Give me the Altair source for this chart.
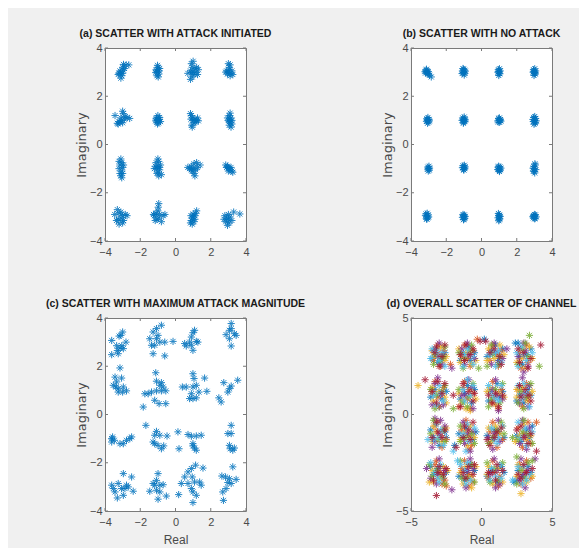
import altair as alt
import pandas as pd

# ---------------- data ----------------
TITLES = ["(a) SCATTER WITH ATTACK INITIATED", "(b) SCATTER WITH NO ATTACK",
          "(c) SCATTER WITH MAXIMUM ATTACK MAGNITUDE", "(d) OVERALL SCATTER OF CHANNEL"]
TICKS_ABC = [-4, -2, 0, 2, 4]
TICKS_D = [-5, 0, 5]
DOMAIN_ABC = [-4, 4]
DOMAIN_D = [-5, 5]
SERIES_NAMES = ["s1", "s2", "s3", "s4", "s5", "s6", "s7"]
SERIES_COLORS = ["#0072BD", "#D95319", "#EDB120", "#7E2F8E", "#77AC30", "#4DBEEE", "#A2142F"]

A_XY = [
    (-2.95, 3.32), (-2.8, 3.3), (-2.65, 3.3), (-3.0, 3.2), (-2.9, 3.15), (-3.2, 2.95), (-3.25, 2.9),
    (-3.1, 3.0), (-3.05, 2.85), (-3.1, 2.75), (-3.0, 2.95), (-3.15, 3.05), (-2.95, 3.08),
    (-1.0, 3.0), (-1.1, 3.1), (-0.95, 2.92), (-1.05, 2.85), (-1.0, 3.2), (-0.92, 3.05), (-1.12, 2.98),
    (-1.02, 3.28), (-0.98, 2.8), (-1.08, 3.05), (-0.9, 3.15),
    (1.0, 3.0), (0.85, 3.05), (0.9, 3.35), (0.95, 3.2), (1.1, 3.15), (1.2, 3.2), (1.3, 3.1), (1.05, 2.9),
    (0.95, 2.8), (0.85, 2.7), (1.15, 3.0), (0.7, 2.95), (1.0, 3.45), (1.25, 2.9), (0.92, 2.98),
    (3.0, 3.0), (2.9, 3.05), (3.05, 3.2), (3.1, 3.3), (3.0, 3.35), (2.85, 3.0), (3.15, 2.95), (3.1, 2.85),
    (3.25, 2.9), (2.95, 2.92), (3.05, 3.1), (3.2, 3.05),
    (-3.43, 1.2), (-3.0, 1.38), (-2.96, 1.28), (-2.75, 1.12), (-2.6, 1.08), (-3.05, 1.0), (-3.15, 0.92),
    (-3.25, 0.85), (-3.2, 0.95), (-2.9, 1.05), (-3.1, 1.1), (-3.3, 0.88), (-2.85, 1.15), (-3.0, 0.9),
    (-1.0, 1.0), (-1.08, 1.1), (-0.92, 1.05), (-0.95, 0.9), (-1.05, 0.92), (-1.0, 1.2), (-0.9, 1.12),
    (-1.12, 0.98), (-0.85, 0.95), (-1.02, 0.85), (-0.98, 1.02), (-1.1, 1.06),
    (0.85, 1.28), (0.9, 1.2), (0.95, 1.1), (1.0, 1.0), (1.1, 1.05), (1.2, 1.0), (1.3, 0.98), (1.05, 0.9),
    (0.92, 0.8), (0.95, 0.72), (1.15, 0.92), (0.88, 1.05), (1.25, 1.1),
    (3.1, 1.3), (3.05, 1.2), (3.15, 1.1), (3.0, 1.0), (3.2, 1.0), (3.1, 0.9), (3.05, 0.8), (3.15, 0.72),
    (3.1, 1.05), (2.95, 1.1), (3.2, 0.85), (3.05, 0.95),
    (-3.1, -0.6), (-3.05, -0.75), (-3.15, -0.85), (-3.0, -0.95), (-3.2, -1.0), (-3.05, -1.1), (-3.15, -1.2),
    (-3.1, -1.3), (-3.05, -1.38), (-2.95, -0.85), (-3.2, -0.7), (-3.0, -1.2),
    (-1.0, -0.6), (-0.95, -0.7), (-1.1, -0.75), (-1.15, -0.9), (-1.0, -0.9), (-0.85, -0.85), (-1.05, -1.0),
    (-1.2, -1.0), (-0.9, -1.05), (-1.0, -1.15), (-0.95, -1.3), (-0.8, -1.25), (-1.05, -1.2), (-0.92, -0.95),
    (1.0, -1.0), (0.8, -1.0), (0.9, -0.9), (1.05, -0.8), (1.2, -0.75), (1.4, -0.85), (1.15, -1.05),
    (0.95, -1.1), (1.05, -1.2), (1.1, -1.3), (0.7, -0.95), (1.25, -0.95), (0.9, -1.05),
    (2.85, -0.85), (2.95, -0.9), (3.0, -0.95), (3.05, -1.0), (3.1, -1.05), (3.2, -1.1), (3.25, -1.15),
    (3.0, -1.1), (3.15, -0.95), (2.9, -0.95),
    (-3.3, -2.7), (-3.2, -2.85), (-3.45, -2.9), (-3.0, -2.95), (-3.1, -3.05), (-3.25, -3.1), (-2.85, -2.9),
    (-2.75, -2.95), (-3.0, -3.25), (-3.2, -3.3), (-3.35, -3.15), (-2.95, -3.15), (-3.1, -2.8),
    (-0.95, -2.45), (-0.98, -2.6), (-1.0, -2.75), (-1.1, -2.85), (-1.2, -2.95), (-0.9, -2.9), (-0.7, -2.95),
    (-0.6, -2.9), (-1.05, -3.1), (-0.8, -3.2), (-1.15, -3.15), (-0.95, -3.05), (-1.25, -2.9),
    (1.2, -2.75), (1.15, -2.85), (1.1, -2.95), (1.0, -3.0), (0.95, -3.05), (0.9, -3.15), (0.85, -3.25),
    (1.05, -3.2), (0.95, -3.3), (1.1, -3.1), (0.88, -2.95), (1.0, -2.88),
    (2.8, -2.95), (2.9, -3.05), (3.0, -3.1), (2.85, -3.2), (3.05, -3.25), (2.95, -3.35), (3.1, -3.0),
    (3.3, -2.8), (3.65, -2.88), (3.2, -3.15), (2.75, -3.1), (3.0, -2.9),
]

B_XY = [
    (-3.15, 3.08), (-3.1, 3.0), (-3.05, 2.95), (-3.2, 3.02), (-3.12, 3.12), (-3.0, 2.92), (-2.95, 2.87),
    (-2.85, 2.8), (-3.08, 3.05), (-3.18, 2.96), (-3.02, 3.02),
    (-1.0, 3.0), (-1.08, 3.05), (-0.95, 2.95), (-1.02, 3.12), (-0.92, 3.04), (-1.1, 2.94), (-0.98, 2.88),
    (-1.05, 3.15), (-0.96, 3.08), (-1.04, 2.98),
    (1.0, 3.0), (0.96, 3.1), (1.04, 2.93), (0.98, 2.86), (1.06, 3.05), (0.93, 3.0), (1.02, 3.14),
    (1.0, 2.95), (0.97, 3.03),
    (3.0, 3.0), (2.95, 3.1), (3.05, 2.92), (2.98, 2.86), (3.07, 3.05), (2.93, 3.0), (3.02, 3.14),
    (3.0, 2.95), (2.97, 3.03), (3.04, 2.98),
    (-3.05, 1.0), (-3.1, 1.07), (-3.0, 0.93), (-2.98, 1.04), (-3.12, 0.96), (-3.04, 1.12), (-3.06, 0.88),
    (-2.96, 0.98), (-3.08, 1.02),
    (-1.0, 1.0), (-1.06, 1.1), (-0.94, 0.95), (-1.03, 0.88), (-0.96, 1.06), (-1.1, 1.0), (-0.98, 1.14),
    (-1.02, 0.92), (-0.92, 1.02), (-1.04, 1.04),
    (1.0, 1.0), (1.07, 1.03), (0.93, 0.98), (1.03, 0.92), (0.97, 1.08), (1.1, 0.97), (0.95, 0.93),
    (1.02, 1.1), (1.05, 1.0),
    (3.0, 1.0), (3.07, 1.08), (2.94, 0.95), (3.04, 0.88), (2.96, 1.12), (3.1, 0.98), (2.92, 1.04),
    (3.02, 1.16), (3.06, 0.92), (2.98, 0.84),
    (-3.0, -1.0), (-3.04, -0.94), (-2.96, -1.06), (-3.02, -1.1), (-2.98, -0.9), (-3.05, -1.02), (-2.95, -0.98),
    (-1.0, -0.95), (-1.05, -0.88), (-0.95, -1.0), (-1.02, -1.04), (-0.97, -0.86), (-1.08, -0.96),
    (-0.93, -0.93), (-1.0, -1.06),
    (1.0, -1.0), (0.94, -0.94), (1.06, -1.05), (1.02, -1.12), (0.97, -0.9), (1.1, -0.98), (0.92, -1.04),
    (1.0, -1.08), (1.05, -0.93),
    (3.0, -1.0), (3.05, -0.85), (2.95, -1.1), (3.02, -1.18), (2.97, -0.92), (3.08, -1.04), (2.93, -0.98),
    (3.03, -0.8), (2.99, -1.12),
    (-3.1, -2.97), (-3.15, -2.88), (-3.05, -3.04), (-3.12, -3.08), (-3.02, -2.92), (-3.18, -2.95),
    (-3.08, -2.85), (-3.0, -3.0), (-3.1, -3.1),
    (-1.0, -3.0), (-1.05, -2.9), (-0.95, -3.06), (-1.02, -3.12), (-0.97, -2.92), (-1.08, -3.02),
    (-0.93, -2.98), (-1.0, -3.1), (-1.03, -2.95),
    (1.0, -3.0), (0.96, -2.86), (1.04, -3.08), (0.98, -3.16), (1.02, -2.92), (0.94, -3.04), (1.06, -2.98),
    (1.0, -3.12), (0.98, -2.94),
    (3.0, -3.0), (3.06, -2.92), (2.94, -3.04), (3.02, -3.08), (2.96, -2.95), (3.1, -3.0), (2.92, -2.98),
    (3.0, -2.9), (3.04, -3.06),
]

C_XY = [
    (-3.62, 3.07), (-3.62, 2.48), (-3.34, 2.85), (-3.25, 2.52), (-3.10, 3.28), (-3.0, 3.42), (-2.96, 2.73),
    (-2.81, 3.0), (-3.15, 2.75), (-3.3, 2.65), (-3.05, 2.85), (-3.2, 3.25),
    (-1.46, 3.14), (-1.27, 3.42), (-1.08, 3.56), (-0.8, 3.7), (-0.99, 3.28), (-1.18, 2.87), (-1.27, 2.52),
    (-0.89, 3.0), (-0.61, 3.0), (-0.61, 2.43), (-1.36, 2.87), (-1.08, 3.14), (-0.14, 3.03),
    (0.52, 2.94), (0.8, 3.0), (0.9, 3.21), (0.99, 3.39), (1.08, 3.49), (1.18, 3.03), (1.27, 3.0),
    (0.99, 2.66), (0.61, 2.84), (0.9, 2.87),
    (2.87, 3.31), (3.16, 3.77), (3.16, 3.56), (3.06, 3.14), (3.16, 2.84), (3.44, 3.28), (3.34, 3.35),
    (3.06, 3.49),
    (-3.15, 1.93), (-3.43, 1.55), (-3.53, 1.21), (-3.34, 1.35), (-3.25, 1.07), (-3.06, 1.51), (-3.0, 0.93),
    (-2.78, 0.98), (-3.25, 0.93), (-3.38, 1.14), (-2.96, 1.14),
    (-1.74, 0.86), (-1.55, 0.86), (-1.36, 0.93), (-1.08, 0.98), (-0.8, 0.98), (-0.55, 0.98), (-1.12, 1.73),
    (-1.08, 1.38), (-0.89, 1.21), (-0.8, 1.32), (-1.18, 0.59), (-0.93, 0.45), (-0.55, 0.45), (-1.83, 0.31),
    (-0.7, 1.14),
    (0.39, 1.14), (0.61, 1.14), (0.99, 1.69), (1.05, 1.49), (0.99, 1.14), (1.18, 1.21), (0.9, 0.86),
    (0.99, 0.66), (1.18, 0.69), (1.33, 0.93), (1.65, 1.51), (1.78, 0.96), (0.8, 0.66),
    (2.74, 1.32), (2.97, 0.93), (3.16, 1.18), (3.53, 1.42), (2.46, 0.69), (2.59, 0.52), (3.06, 1.07),
    (-3.62, -1.0), (-3.62, -1.14), (-3.47, -1.07), (-3.15, -1.21), (-2.96, -1.21), (-2.78, -1.07),
    (-2.59, -1.0), (-2.49, -0.93), (-3.57, -0.93),
    (-1.68, -0.45), (-1.08, -0.7), (-1.18, -0.86), (-0.89, -0.86), (-0.48, -0.89), (-1.18, -1.21),
    (-0.99, -1.28), (-0.8, -1.42), (-0.67, -1.3), (-1.27, -1.14),
    (0.14, -0.72), (0.2, -1.42), (0.71, -0.83), (0.9, -0.9), (1.18, -0.89), (1.46, -0.86), (0.99, -1.21),
    (1.08, -1.39), (1.18, -1.48), (0.99, -1.3),
    (3.16, -0.45), (2.97, -0.79), (3.16, -0.79), (3.06, -1.28), (3.1, -1.42), (3.34, -1.39), (3.25, -1.48),
    (-3.62, -2.93), (-3.53, -3.07), (-3.25, -2.86), (-2.96, -2.45), (-3.06, -3.07), (-2.87, -3.07),
    (-2.68, -3.0), (-2.49, -2.59), (-2.4, -3.18), (-3.3, -3.46), (-2.96, -3.35), (-2.78, -2.93),
    (-3.43, -3.21),
    (-1.46, -3.18), (-0.99, -2.45), (-1.08, -2.73), (-1.18, -2.93), (-0.89, -2.93), (-0.7, -2.91),
    (-1.08, -3.14), (-0.89, -3.21), (-0.99, -3.51), (-0.52, -3.38), (-1.27, -2.86),
    (0.18, -3.32), (0.52, -2.59), (0.71, -2.38), (0.9, -2.24), (1.14, -2.1), (0.95, -2.59), (0.33, -2.86),
    (0.71, -2.86), (1.08, -2.8), (1.37, -2.8), (1.56, -2.22), (0.99, -3.21), (1.18, -3.35), (0.99, -3.65),
    (1.46, -2.93), (0.9, -3.07),
    (2.63, -2.55), (2.84, -2.59), (3.25, -2.17), (3.06, -2.66), (3.44, -2.69), (3.16, -2.86), (2.87, -3.07),
    (2.68, -3.21), (2.72, -3.56), (2.97, -2.82),
]

D1 = [(-3.2, 3.4), (-2.8, 2.9), (-3.1, 2.7), (-1.3, 3.2), (-0.8, 2.8), (-0.9, 3.5), (0.7, 3.3), (1.2, 2.8),
      (1.0, 3.6), (2.6, 3.7), (3.2, 3.1), (2.9, 2.6), (-3.3, 1.3), (-2.8, 0.8), (-3.0, 0.4), (-1.2, 1.1),
      (-0.7, 0.6), (-1.0, 1.5), (0.6, 1.2), (1.3, 0.9), (1.1, 1.6), (2.7, 1.0), (3.3, 1.3), (3.0, 0.6),
      (-3.4, -1.2), (-2.6, -0.9), (-3.0, -1.6), (-1.1, -0.7), (-0.6, -1.3), (-1.3, -1.2), (0.8, -1.3),
      (1.2, -0.9), (0.9, -0.8), (2.8, -1.4), (3.2, -0.8), (3.4, -1.2), (-3.1, -2.8), (-2.7, -3.3),
      (-3.4, -3.1), (-1.2, -3.4), (-0.8, -2.6), (-1.0, -3.0), (0.7, -2.9), (1.1, -3.5), (1.4, -2.7),
      (2.9, -3.2), (3.3, -2.7), (2.6, -2.9), (-1.9, -1.6), (2.3, -3.5), (0.2, 3.9), (2.4, 3.7),
      (-2.6, 3.2), (-3.5, 2.9), (-1.5, 2.8), (-0.5, 3.2), (0.4, 3.0), (1.5, 3.4), (3.5, 3.4), (2.7, 3.0),
      (-3.6, 0.9), (-2.5, 1.2), (-1.5, 0.8), (-0.5, 1.3), (0.5, 0.7), (1.5, 1.2), (2.5, 0.7), (3.5, 1.0),
      (-3.6, -0.8), (-2.5, -1.2), (-1.6, -1.0), (-0.4, -0.9), (0.4, -1.1), (1.6, -1.2), (2.5, -1.1),
      (3.6, -0.6), (-3.6, -2.7), (-2.5, -3.0), (-1.6, -3.2), (-0.5, -2.9), (0.4, -3.2), (1.6, -3.0),
      (2.5, -3.4), (3.5, -3.0)]
D2 = [(-3.0, 3.1), (-3.4, 2.8), (-2.7, 3.3), (-1.0, 2.9), (-0.6, 3.3), (-1.4, 3.0), (1.1, 3.1), (0.6, 2.8),
      (1.4, 3.3), (3.0, 3.0), (2.7, 3.2), (3.3, 2.7), (-3.1, 0.9), (-2.7, 1.4), (-3.5, 1.1), (-1.0, 0.8),
      (-1.3, 1.4), (-0.6, 1.1), (0.9, 0.9), (1.4, 1.3), (0.7, 0.6), (3.1, 0.8), (2.6, 1.3), (3.4, 1.0),
      (-2.9, -1.1), (-3.3, -0.6), (-2.5, -1.3), (-0.9, -1.1), (-1.4, -0.8), (-0.7, -1.6), (1.0, -1.1),
      (1.5, -1.3), (0.6, -0.9), (3.0, -1.0), (2.6, -0.7), (3.5, -1.5), (-2.9, -3.0), (-3.3, -2.6),
      (-2.6, -3.4), (-0.9, -3.1), (-1.4, -2.8), (-0.6, -3.5), (1.0, -3.0), (0.5, -3.3), (1.3, -3.2),
      (3.1, -3.0), (2.7, -2.6), (3.5, -3.3), (-2.2, 2.6), (-2.5, -3.7), (-1.6, 0.4), (3.9, -0.4), (-0.3, 3.9),
      (-3.1, 3.6), (-2.9, 2.5), (-1.2, 3.6), (-0.8, 2.5), (0.8, 3.6), (1.2, 2.5), (3.2, 3.6), (2.8, 2.4),
      (-3.0, 0.4), (-3.3, 1.7), (-0.8, 0.3), (-1.2, 1.7), (1.2, 0.3), (0.8, 1.7), (2.9, 0.4), (3.2, 1.6),
      (-3.1, -0.4), (-2.8, -1.7), (-1.1, -0.3), (-0.9, -1.8), (0.8, -0.4), (1.1, -1.7), (3.3, -0.4),
      (2.9, -1.7), (-3.2, -2.4), (-2.8, -3.6), (-1.2, -2.4), (-0.9, -3.7), (0.8, -2.4), (1.2, -3.7),
      (3.2, -2.4), (2.8, -3.6)]
D3 = [(-2.9, 3.5), (-3.3, 3.0), (-2.6, 2.8), (-1.1, 3.2), (-0.7, 2.6), (-1.5, 2.7), (0.9, 2.9), (1.3, 3.6),
      (0.5, 3.4), (2.8, 2.9), (3.4, 3.5), (3.1, 2.4), (-3.0, 1.2), (-3.4, 0.7), (-2.6, 0.9), (-0.8, 1.3),
      (-1.4, 0.7), (-1.1, 0.3), (1.2, 1.1), (0.6, 1.4), (1.0, 0.5), (2.9, 1.4), (3.3, 0.7), (2.5, 0.9),
      (-3.2, -0.9), (-2.8, -1.4), (-3.5, -1.4), (-1.2, -0.9), (-0.8, -0.6), (-1.0, -1.6), (1.3, -1.0),
      (0.7, -1.4), (1.0, -0.6), (3.2, -1.3), (2.7, -1.1), (3.0, -0.5), (-3.0, -3.3), (-3.5, -2.9),
      (-2.7, -2.7), (-1.1, -2.7), (-0.7, -3.2), (-1.3, -3.6), (1.2, -2.8), (0.8, -3.6), (0.5, -2.7),
      (2.9, -2.8), (3.2, -3.5), (2.5, -3.2), (-4.5, 1.5), (2.8, -4.1), (-3.7, -3.5), (-0.7, -3.8), (-0.8, 0.2),
      (-3.5, 3.3), (-2.5, 3.0), (-1.6, 3.4), (-0.4, 2.8), (0.4, 2.8), (1.6, 3.1), (2.5, 2.7), (3.6, 2.9),
      (-3.5, 1.4), (-2.5, 0.6), (-1.6, 1.1), (-0.4, 0.8), (0.4, 1.2), (1.6, 0.9), (2.5, 1.3), (3.6, 1.2),
      (-3.4, -0.6), (-2.5, -0.7), (-1.5, -1.3), (-0.5, -1.2), (0.5, -0.7), (1.5, -0.6), (2.4, -1.4),
      (3.5, -1.1), (-3.4, -3.5), (-2.4, -2.9), (-1.5, -3.0), (-0.4, -2.7), (0.4, -3.1), (1.5, -3.5),
      (2.6, -2.6), (3.6, -3.2)]
D4 = [(-3.1, 3.0), (-2.7, 3.1), (-3.4, 3.3), (-0.9, 3.1), (-1.2, 2.6), (-0.5, 2.9), (1.0, 3.2), (0.7, 2.6),
      (1.5, 2.9), (3.1, 3.3), (2.6, 3.0), (3.0, 2.2), (-2.9, 1.0), (-3.3, 1.6), (-2.7, 0.5), (-1.1, 1.0),
      (-0.7, 1.4), (-1.4, 1.0), (1.1, 1.0), (0.8, 1.3), (1.5, 0.8), (3.0, 1.1), (2.7, 0.6), (3.4, 1.5),
      (-3.0, -1.0), (-2.6, -0.6), (-3.3, -1.4), (-1.0, -1.0), (-0.6, -0.9), (-1.2, -1.5), (0.9, -1.0),
      (1.3, -1.4), (0.5, -1.2), (3.1, -1.1), (2.7, -1.5), (3.4, -0.7), (-3.1, -3.1), (-2.6, -2.9),
      (-3.2, -3.6), (-1.0, -2.9), (-0.6, -2.8), (-1.3, -3.2), (1.1, -2.9), (0.6, -3.1), (1.3, -3.6),
      (3.0, -3.1), (3.3, -2.9), (2.7, -3.4), (-3.9, -2.8), (-2.1, -3.9), (1.8, 3.4), (-3.3, -0.2),
      (3.8, -2.3), (-2.1, 2.4),
      (-3.0, 3.7), (-2.8, 2.6), (-1.0, 3.7), (-1.4, 3.4), (0.9, 3.7), (1.2, 2.7), (3.0, 3.7), (3.3, 2.5),
      (-3.1, 1.9), (-3.5, 0.5), (-0.9, 1.8), (-0.6, 0.3), (1.0, 1.8), (1.2, 0.2), (2.9, 1.9), (3.3, 0.4),
      (-2.9, -0.3), (-3.5, -1.7), (-1.3, -0.4), (-0.8, -1.9), (1.2, -0.3), (0.8, -1.8), (2.9, -0.3),
      (3.2, -1.8), (-3.0, -2.3), (-3.6, -3.3), (-0.8, -2.3), (-1.1, -3.8), (0.9, -2.3), (1.0, -3.8),
      (2.8, -2.3), (3.1, -3.8)]
D5 = [(-3.3, 3.1), (-2.9, 2.8), (-2.6, 3.5), (-1.2, 2.9), (-0.8, 3.3), (-1.6, 3.2), (0.8, 3.1), (1.2, 2.6),
      (0.4, 2.5), (3.3, 3.0), (2.9, 3.4), (3.4, 4.1), (-3.2, 1.0), (-2.8, 1.2), (-3.3, 0.3), (-0.9, 0.9),
      (-1.3, 0.6), (-1.6, 1.3), (1.0, 1.3), (0.7, 0.8), (1.3, 0.6), (2.8, 1.2), (3.2, 0.9), (2.6, 0.6),
      (-3.1, -1.3), (-2.7, -0.8), (-3.6, -1.0), (-1.1, -1.2), (-0.7, -1.0), (-1.5, -0.6), (1.1, -0.8),
      (0.8, -1.2), (1.6, -1.0), (2.9, -0.9), (3.3, -1.0), (2.6, -1.3), (-3.2, -2.9), (-2.8, -3.2),
      (-3.7, -2.6), (-1.0, -3.3), (-1.4, -3.3), (-0.7, -2.6), (0.9, -2.8), (1.2, -3.4), (0.6, -3.5),
      (3.1, -3.3), (2.8, -2.9), (3.3, -2.5), (4.1, 2.5), (-0.2, 2.4), (2.2, -1.2), (-2.0, 0.3), (2.5, -2.2),
      (-2.7, 3.0), (-3.4, 2.6), (-0.7, 3.6), (-1.3, 2.4), (1.3, 3.0), (0.7, 3.6), (2.6, 2.6), (3.1, 3.7),
      (-2.6, 1.5), (-3.6, 1.3), (-0.6, 1.6), (-1.0, 0.4), (1.5, 1.6), (0.5, 0.4), (3.5, 1.6), (3.0, 0.3),
      (-2.6, -1.4), (-3.4, -0.3), (-0.5, -1.5), (-1.5, -1.4), (0.5, -1.5), (1.4, -0.4), (3.6, -1.5),
      (3.0, -0.3), (-2.6, -3.6), (-3.5, -3.2), (-0.5, -3.5), (-1.5, -2.4), (1.5, -2.5), (0.4, -2.5),
      (2.5, -3.6), (3.6, -2.4)]
D6 = [(-3.0, 2.8), (-3.5, 3.4), (-2.8, 3.2), (-1.0, 3.4), (-0.6, 3.0), (-1.3, 2.5), (1.2, 3.3), (0.6, 3.1),
      (1.0, 2.5), (2.8, 3.5), (3.2, 2.8), (2.5, 3.2), (-3.0, 1.5), (-3.4, 1.0), (-2.7, 0.7), (-1.2, 0.7),
      (-0.8, 1.0), (-1.0, 1.8), (0.8, 1.0), (1.2, 0.7), (1.4, 1.5), (3.2, 1.1), (2.9, 0.8), (2.6, 1.5),
      (-2.9, -0.8), (-3.4, -1.3), (-2.7, -1.6), (-1.3, -1.0), (-0.9, -1.4), (-0.5, -0.7), (1.2, -1.2),
      (0.7, -0.7), (1.1, -1.5), (3.1, -0.7), (2.8, -1.2), (3.6, -0.9), (-3.3, -3.0), (-2.9, -2.6),
      (-3.0, -3.5), (-1.2, -2.9), (-0.8, -3.4), (-1.5, -2.6), (1.0, -3.2), (1.3, -2.6), (0.7, -2.8),
      (3.0, -2.7), (3.4, -3.1), (2.9, -3.6), (-3.6, 2.9), (3.6, 3.2), (-3.8, -1.3), (2.2, -3.4),
      (-2.0, -1.9), (-1.7, -2.4),
      (-3.2, 3.2), (-2.6, 2.5), (-1.2, 3.1), (-0.6, 2.6), (1.0, 3.2), (1.4, 2.7), (3.0, 3.1), (2.6, 2.5),
      (-3.2, 0.5), (-2.9, 1.1), (-0.6, 1.5), (-1.3, 1.3), (1.0, 0.8), (0.5, 1.5), (3.0, 1.6), (3.4, 0.4),
      (-3.2, -0.5), (-3.0, -1.2), (-1.0, -0.5), (-1.1, -1.9), (0.9, -1.3), (1.5, -0.6), (3.2, -1.6),
      (2.6, -0.4), (-3.6, -2.5), (-3.1, -3.3), (-1.0, -2.5), (-1.1, -3.6), (0.6, -3.4), (1.4, -3.3),
      (3.2, -3.4), (2.6, -2.7)]
D7 = [(-2.8, 3.0), (-3.2, 3.5), (-3.0, 2.5), (-0.8, 3.1), (-1.1, 3.6), (-1.2, 2.8), (1.3, 3.0), (0.9, 3.4),
      (0.3, 3.8), (3.0, 3.2), (2.7, 2.7), (3.5, 2.9), (-2.8, 1.1), (-3.2, 0.6), (-3.1, 1.7), (-0.9, 1.2),
      (-1.5, 0.4), (-0.6, 0.7), (1.0, 1.1), (0.5, 1.0), (1.2, 0.4), (3.1, 1.3), (3.5, 0.7), (2.8, 0.9),
      (-3.1, -0.9), (-2.8, -1.2), (-3.2, -0.4), (-0.9, -0.8), (-1.2, -0.6), (-0.8, -1.3), (0.9, -1.2),
      (1.4, -0.7), (0.6, -1.6), (3.0, -1.2), (3.3, -1.5), (2.5, -0.8), (-3.0, -2.7), (-2.7, -3.1),
      (-3.4, -3.4), (-0.9, -2.7), (-1.3, -3.0), (-0.6, -3.1), (0.8, -3.0), (1.5, -2.9), (1.1, -2.6),
      (3.2, -3.0), (2.8, -3.3), (3.6, -2.8), (-4.0, 1.8), (4.2, 3.6), (-3.2, -4.2), (-0.1, 3.8),
      (3.9, -1.9), (-2.0, 1.0), (-1.8, -1.7),
      (-3.3, 3.2), (-2.6, 3.6), (-0.6, 3.4), (-1.5, 3.1), (1.4, 2.6), (0.6, 3.2), (2.6, 3.4), (3.3, 2.4),
      (-3.5, 1.2), (-2.6, 1.6), (-1.3, 1.6), (-0.5, 1.1), (1.5, 1.0), (0.8, 0.6), (2.7, 1.5), (3.3, 1.0),
      (-3.5, -1.2), (-2.6, -0.8), (-1.3, -1.2), (-0.6, -0.4), (1.1, -0.9), (0.4, -1.3), (2.8, -0.6),
      (3.5, -1.0), (-3.1, -3.0), (-2.5, -2.8), (-1.1, -3.3), (-0.5, -2.6), (1.0, -3.4), (0.5, -3.0),
      (3.0, -2.6), (2.6, -3.1)]
D_SERIES = [D1, D2, D3, D4, D5, D6, D7]

# ---------------- styling ----------------
ASTERISK = "M-1,0L1,0M0,-1L0,1M-0.7,-0.7L0.7,0.7M-0.7,0.7L0.7,-0.7"
W, H = 141, 193
BOX = "#7a7a7a"
TXT = "#4a4a4a"
SANS = "Liberation Sans"


def panel(df, title, ticks, domain, xtitle, colored):
    xs = alt.Scale(domain=domain, nice=False, zero=False)
    ys = alt.Scale(domain=domain, nice=False, zero=False)
    ax_x = alt.Axis(values=ticks, title=xtitle)
    ax_y = alt.Axis(values=ticks, title="Imaginary")
    enc = dict(
        x=alt.X("x:Q", scale=xs, axis=ax_x),
        y=alt.Y("y:Q", scale=ys, axis=ax_y),
    )
    if colored:
        enc["color"] = alt.Color("s:N", scale=alt.Scale(domain=SERIES_NAMES, range=SERIES_COLORS), legend=None)
    else:
        enc["color"] = alt.value("#0072BD")
    pts = alt.Chart(df).mark_point(shape=ASTERISK, filled=False, size=52, strokeWidth=1,
                                   opacity=0.85).encode(**enc)
    tx = pd.DataFrame({"x": ticks})
    ty = pd.DataFrame({"y": ticks})
    rx = alt.X("x:Q", scale=xs, axis=ax_x)
    ry = alt.Y("y:Q", scale=ys, axis=ax_y)
    t_top = alt.Chart(tx).mark_rule(color=BOX, strokeWidth=1).encode(x=rx, y=alt.value(0), y2=alt.value(3))
    t_bot = alt.Chart(tx).mark_rule(color=BOX, strokeWidth=1).encode(x=rx, y=alt.value(H), y2=alt.value(H - 3))
    t_lft = alt.Chart(ty).mark_rule(color=BOX, strokeWidth=1).encode(y=ry, x=alt.value(0), x2=alt.value(3))
    t_rgt = alt.Chart(ty).mark_rule(color=BOX, strokeWidth=1).encode(y=ry, x=alt.value(W), x2=alt.value(W - 3))
    return alt.layer(pts, t_top, t_bot, t_lft, t_rgt).properties(
        width=W, height=H, title=alt.TitleParams(title))


df_a = pd.DataFrame(A_XY, columns=["x", "y"])
df_b = pd.DataFrame(B_XY, columns=["x", "y"])
df_c = pd.DataFrame(C_XY, columns=["x", "y"])
rows = []
for name, pts in zip(SERIES_NAMES, D_SERIES):
    for (px, py) in pts:
        rows.append({"x": px, "y": py, "s": name})
df_d = pd.DataFrame(rows)

pa = panel(df_a, TITLES[0], TICKS_ABC, DOMAIN_ABC, None, False)
pb = panel(df_b, TITLES[1], TICKS_ABC, DOMAIN_ABC, None, False)
pc = panel(df_c, TITLES[2], TICKS_ABC, DOMAIN_ABC, "Real", False)
pd_ = panel(df_d, TITLES[3], TICKS_D, DOMAIN_D, "Real", True)

chart = alt.concat(
    pa, pb, pc, pd_, columns=2,
    spacing=alt.RowColnumber(row=77, column=165), bounds="flush",
).properties(
    padding={"left": 37, "top": 20, "right": 2, "bottom": 2}
).configure(
    background="#f0f0f0"
).configure_view(
    fill="white", stroke=BOX, strokeWidth=1
).configure_axis(
    grid=False, domain=False, ticks=False, labelOverlap=False, labelFlush=False,
    labelFont=SANS, labelFontSize=11, labelColor=TXT,
    titleFontWeight="normal", titleColor=TXT,
).configure_axisX(
    labelPadding=5, titlePadding=7, titleFont=SANS, titleFontSize=12
).configure_axisY(
    labelPadding=3, titlePadding=1, titleFont="DejaVu Sans", titleFontSize=13
).configure_title(
    font=SANS, fontSize=10.5, fontWeight="bold", color="#1a1a1a", anchor="middle",
    frame="group", offset=3
)

chart.save("out.html", embed_options={"renderer": "svg", "actions": False})
